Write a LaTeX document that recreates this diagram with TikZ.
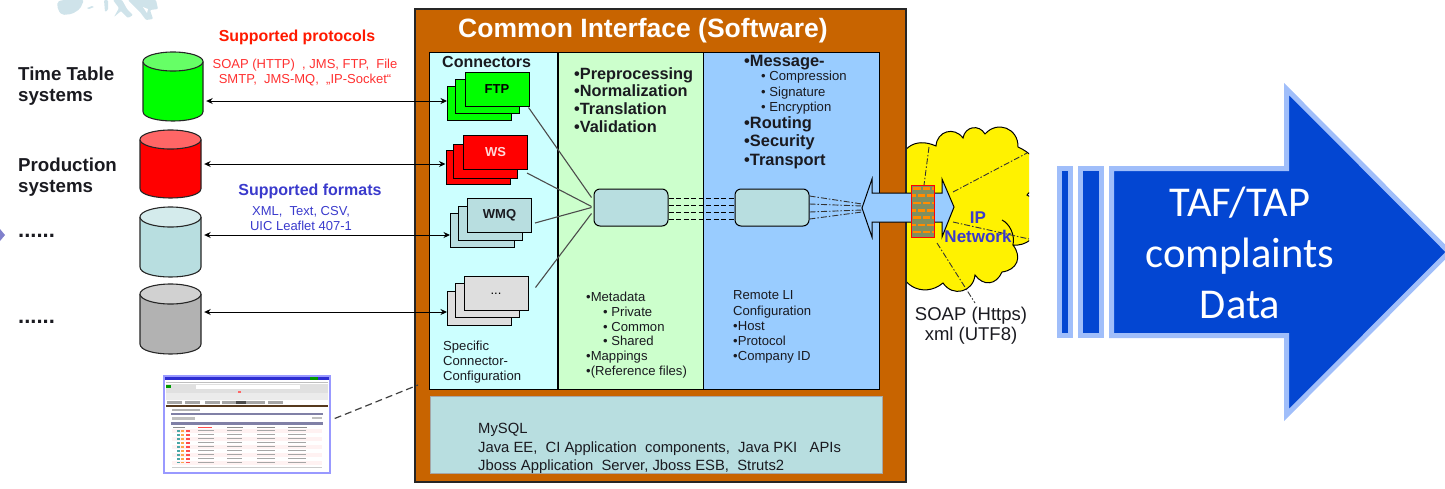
\documentclass[tikz,border=0pt]{standalone}
\usepackage{fontspec}
\setmainfont{Liberation Sans}
\newfontfamily\calibrifont{Carlito}
\usetikzlibrary{arrows.meta,calc}
\definecolor{boxorange}{HTML}{C86400}
\definecolor{pcyan}{HTML}{CCFFFF}
\definecolor{pgreen}{HTML}{CCFFCC}
\definecolor{pblue}{HTML}{99CCFF}
\definecolor{pteal}{HTML}{B8DEE0}
\definecolor{bigblue}{HTML}{0346D2}
\definecolor{bigedge}{HTML}{A0BEFA}
\definecolor{inktext}{HTML}{1A1A20}
\definecolor{fmtblue}{HTML}{3A3ACC}
\definecolor{protred}{HTML}{FF3030}
\definecolor{mapblue}{HTML}{CFE3EA}
\definecolor{brickbase}{HTML}{7F8F60}
\newcommand{\fs}[1]{\fontsize{#1}{#1}\selectfont}
\tikzset{
  x=1pt,y=-1pt,
  plate/.style={draw=black,line width=1pt,minimum width=64pt,minimum height=34pt,inner sep=0pt,font=\fs{13}\bfseries},
  label text/.style={inner sep=0pt,anchor=west,align=left,text=inktext},
  small text/.style={label text,font=\fs{13.1}},
  head text/.style={label text,font=\fs{16.4}\bfseries},
  link/.style={draw=black!70,line width=1.1pt},
  data/.style={black,line width=1pt,{Stealth[length=6.5pt,width=6pt]}-{Stealth[length=6.5pt,width=6pt]},shorten <=3pt},
  fine dash/.style={black,line width=0.8pt,dash pattern=on 5pt off 2.5pt},
  dash dot/.style={black!80,line width=0.9pt,dash pattern=on 6pt off 2pt on 1.5pt off 2pt},
  bigshape/.style={draw=bigedge,fill=bigblue,line width=5pt,miter limit=10},
  lobe/.style={bend left=#1,looseness=1.35},
}
\newcommand{\dbcyl}[8]{% name x1 ytop x2 ybot ry body top
  \pgfmathsetmacro{\cxm}{(#2+#4)/2}
  \pgfmathsetmacro{\crx}{(#4-#2)/2}
  \pgfmathsetmacro{\cyt}{#3+#6}
  \pgfmathsetmacro{\cyb}{#5-#6}
  \pgfmathsetmacro{\cyc}{#5+#6/3}
  \pgfmathsetmacro{\cyd}{#3+#6}
  \node[inner sep=0pt,minimum width=#4pt-#2pt,minimum height=#5pt-#3pt] (#1) at (\cxm,{(#3+#5)/2}) {};
  \fill[#7] (#2,\cyt) -- (#2,\cyb) .. controls (#2,\cyc) and (#4,\cyc) .. (#4,\cyb) -- (#4,\cyt) -- cycle;
  \draw[line width=1.1pt,black!85] (#2,\cyt) -- (#2,\cyb) .. controls (#2,\cyc) and (#4,\cyc) .. (#4,\cyb) -- (#4,\cyt);
  \draw[line width=1.1pt,black!85,fill=#8] (\cxm,\cyd) ellipse[x radius=\crx pt,y radius=#6 pt];
}
\newcommand{\threeplates}[9]{% name colour bx by mx my fx fy label
  \node[plate,fill=#2] (#1-back) at (#3,#4) {};
  \node[plate,fill=#2] (#1-mid) at (#5,#6) {};
  \node[plate,fill=#2] (#1) at (#7,#8) {#9};
}
\begin{document}
\begin{tikzpicture}
\useasboundingbox (0,0) rectangle (1445,488);
% map fragment
\fill[mapblue,rounded corners=2pt] (57,2) -- (62,0) -- (84,0) -- (80,9) -- (72,14) -- (62,15) -- (58,10) -- cycle;
\fill[mapblue] (87,8) -- (92,6) -- (94,7) -- (89,9) -- cycle;
\fill[mapblue,rounded corners=1pt] (104,0) -- (108,0) -- (108,10) -- (105,12) -- cycle;
\fill[mapblue,rounded corners=1pt] (113,0) -- (122,0) -- (127,9) -- (133,15) -- (128,18) -- (121,11) -- (114,17) -- (119,8) -- cycle;
\fill[mapblue,rounded corners=1pt] (128,0) -- (156,0) -- (158,9) -- (150,10) -- (153,19) -- (146,20) -- (140,12) -- cycle;
\fill[white] (143,7) -- (148,9) -- (147,13) -- cycle;
% margin marker
\fill[black!40!blue!50!white] (-6,235) -- (0,229) -- (5,235) -- (0,241) -- cycle;
% labels left
\node[label text,font=\fs{18.7}\bfseries] (ttlab) at (18,86) {Time Table\\[2.3pt]systems};
\node[label text,font=\fs{18.7}\bfseries] (prodlab) at (18,177) {Production\\[2.3pt]systems};
\node[label text,font=\fs{22}\bfseries] (dots1) at (18,236) {......};
\node[label text,font=\fs{22}\bfseries] (dots2) at (18,322) {......};
% cylinders
\dbcyl{db1}{143}{52}{203}{121}{9.5}{green}{green!60!white}
\dbcyl{db2}{140}{130}{201}{198}{9.5}{red}{red!60!white}
\dbcyl{db3}{140}{207}{201}{277}{10}{pteal}{pteal!60!white}
\dbcyl{db4}{140}{284}{201}{354}{10}{black!30}{black!18}
% texts
\node[inner sep=0pt,font=\fs{15.9}\bfseries,text=orange!20!red] (prothead) at (297,37) {Supported protocols};
\node[inner sep=0pt,font=\fs{13},text=protred,align=center] (prottext) at (305,72.5) {SOAP (HTTP)\ \ , JMS, FTP,\ \ File\\[2pt]SMTP,\ \ JMS-MQ,\ \ „IP-Socket“};
\node[inner sep=0pt,font=\fs{16}\bfseries,text=fmtblue] (fmthead) at (310,191) {Supported formats};
\node[inner sep=0pt,font=\fs{13},text=fmtblue,align=center] (fmttext) at (301,218.5) {XML,\ \ Text, CSV,\\[2pt]UIC Leaflet 407-1};
% cloud
\begin{scope}
\clip (900,100) rectangle (1029,320);
\draw[black,line width=1pt,fill=yellow] (900,172) to[lobe=60] (936,146) to[lobe=70] (963,138) to[lobe=70] (985,134) to[lobe=70] (1018,147) to[lobe=55] (1027,195) to[lobe=80] (1013,245) to[lobe=60] (1002,272) to[lobe=60] (975,275) to[lobe=70] (943,283) to[lobe=70] (900,258) -- cycle;
\draw[black,line width=1pt] (1002,220) .. controls (1010,224) and (1015,235) .. (1013,245);
\end{scope}
\draw[dash dot] (929,147) -- (924,185);
\draw[dash dot] (953,192) -- (1027,153);
\draw[dash dot] (953,222) -- (1029,239);
\draw[dash dot] (937,243) -- (975,303);
% main box
\node[draw=black!85,fill=boxorange,line width=1.2pt,minimum width=491pt,minimum height=473pt,inner sep=0pt] (main) at (660.5,245.5) {};
\node[inner sep=0pt,font=\fs{26.5}\bfseries,text=white] (maintitle) at (643,31) {Common Interface (Software)};
% panels
\node[draw=black,fill=pcyan,line width=1pt,minimum width=129pt,minimum height=337pt,inner sep=0pt] (pconn) at (493.5,220.5) {};
\node[draw=black,fill=pgreen,line width=1pt,minimum width=145pt,minimum height=337pt,inner sep=0pt] (pproc) at (630.5,220.5) {};
\node[draw=black,fill=pblue,line width=1pt,minimum width=176pt,minimum height=337pt,inner sep=0pt] (pmsg) at (791,220.5) {};
\draw[black,line width=1.6pt] (558,52) -- (558,389);
\node[draw=black!35,fill=pteal,line width=0.8pt,minimum width=452pt,minimum height=77pt,inner sep=0pt] (pbase) at (656,434.5) {};
% stacks
\threeplates{ftp}{green}{479.5}{103.5}{487.5}{96.5}{497}{89}{FTP}
\threeplates{ws}{red}{478}{167.5}{485.5}{161}{495.5}{152.5}{\textcolor{white!85!red}{WS}}
\threeplates{wmq}{pteal}{482.5}{230}{490.5}{223}{499.5}{215.5}{\textcolor{inktext}{WMQ}}
\threeplates{other}{black!13}{479.5}{308.5}{487.5}{300.5}{496}{293.5}{\textnormal{...}}
% hubs
\node[draw=black,fill=pteal,rounded corners=6pt,line width=1pt,minimum width=74pt,minimum height=37pt,inner sep=0pt] (hub1) at (631,207.5) {};
\node[draw=black,fill=pteal,rounded corners=6pt,line width=1pt,minimum width=74pt,minimum height=37pt,inner sep=0pt] (hub2) at (772,207.5) {};
% links
\draw[link] ([shift={(-1,1)}]ftp.south east) -- ([shift={(-2,-10)}]hub1.west);
\draw[link] ([shift={(-1,3)}]ws.south east) -- ([shift={(-2,-1)}]hub1.west);
\draw[link] ([shift={(3,-10)}]wmq.south east) -- ([shift={(-2,0)}]hub1.west);
\draw[link] ([shift={(7,11.5)}]other.north east) -- ([shift={(-2,6)}]hub1.west);
% hub to hub
\foreach \dy in {-11.5,-4.5,2.5,9.5}{
  \draw[fine dash] ([yshift=\dy pt]hub1.east) -- ([yshift=\dy pt]hub2.west);
}
% block arrow
\coordinate (arrowtipL) at (862,208);
\coordinate (l1) at (0,101);
\coordinate (l2) at (0,164);
\coordinate (l3) at (0,235);
\coordinate (l4) at (0,312);
\foreach \sa/\sb in {196/204,204/206,212/210,219/212}{
  \draw[dash dot] (hub2.east |- 0,\sa) -- (arrowtipL |- 0,\sb);
}
\draw[black,line width=1pt,fill=pblue] (arrowtipL) -- (872,179) -- (872,193) -- (942,193) -- (942,179) -- (954,207) -- (942,237) -- (942,222) -- (872,222) -- (872,237) -- cycle;
% firewall
\begin{scope}
\clip (911,185) rectangle (934,237);
\fill[brickbase] (911,185) rectangle (934,237);
\foreach \r in {0,...,6}{
  \pgfmathsetmacro{\ry}{187+\r*7.3}
  \pgfmathsetmacro{\rx}{mod(\r,2)==0 ? 913 : 908}
  \foreach \c in {0,...,3}{
    \fill[orange!90!yellow] ({\rx+\c*9.5},\ry) rectangle ({\rx+\c*9.5+7.5},{\ry+2.6});
  }
}
\end{scope}
\node[draw=red,line width=1pt,minimum width=23pt,minimum height=52pt,inner sep=0pt] (firewall) at (922.5,211) {};
% connections
\draw[data] (db1.east |- l1) -- (ftp-back.west |- l1);
\draw[data] (db2.east |- l2) -- (ws-back.west |- l2);
\draw[data] (db3.east |- l3) -- (wmq-back.west |- l3);
\draw[data] (db4.east |- l4) -- (other-back.west |- l4);
% panel texts
\node[head text,font=\fs{16}\bfseries] (conntitle) at (442,62) {Connectors};
\node[small text] (connconf) at (443,362) {Specific\\[1.7pt]Connector-\\[1.7pt]Configuration};
\node[head text,font=\fs{16.3}\bfseries] (proctext) at (574,100) {•Preprocessing\\[1.4pt]•Normalization\\[1.4pt]•Translation\\[1.4pt]•Validation};
\node[small text] (metatext) at (586,335) {•Metadata\\[1.6pt]\hspace*{17pt}• Private\\[1.6pt]\hspace*{17pt}• Common\\[1.6pt]\hspace*{17pt}• Shared\\[1.6pt]•Mappings\\[1.6pt]•(Reference files)};
\node[head text] (msgtitle) at (744,63) {•Message-};
\node[small text] (msgsub) at (761,93) {• Compression\\[2.5pt]• Signature\\[2.5pt]• Encryption};
\node[head text] (msgmore) at (744,142.5) {•Routing\\[1.9pt]•Security\\[1.9pt]•Transport};
\node[small text] (remote) at (733,327) {Remote LI\\[2pt]Configuration\\[2pt]•Host\\[2pt]•Protocol\\[2pt]•Company ID};
\node[label text,font=\fs{14.8}] (basetext) at (478,448.5) {MySQL\\[3.7pt]Java EE,\ \ CI Application\ \ components,\ \ Java PKI\ \ \ APIs\\[3.7pt]Jboss Application\ \ Server, Jboss ESB,\ \ Struts2};
\node[inner sep=0pt,font=\fs{17}\bfseries,text=fmtblue,align=center] (iplab) at (978,227) {IP\\[2pt]Network};
\node[inner sep=0pt,font=\fs{18.5},text=inktext,align=center] (soaplab) at (971,326) {SOAP (Https)\\[1.5pt]xml (UTF8)};
% screenshot
\node[draw=blue!40!white,fill=white,line width=1.4pt,minimum width=166pt,minimum height=97pt,inner sep=0pt] (shot) at (247,424.5) {};
\fill[blue!65!gray] (165,376.5) rectangle (329,380);
\fill[green!60!black] (310,376.5) rectangle (318,380);
\fill[black!25] (166,381.5) rectangle (328,383);
\fill[black!12] (166,384) rectangle (328,390);
\fill[white] (196,385) rectangle (300,388.5);
\fill[green!60!black] (166,384.5) rectangle (171,388);
\fill[black!12] (166,390) rectangle (328,393);
\fill[red!60] (238,390.5) rectangle (241,392.5);
\fill[black!8] (166,393) rectangle (328,400);
\foreach \tx in {167,185,205,222,236,250,268}{
  \fill[black!35] (\tx,401) rectangle ({\tx+15},404);
}
\fill[black!70] (236,401) rectangle (246,404);
\fill[black!55!brown] (166,405) rectangle (328,407);
\fill[black!30] (172,409) rectangle (200,410.5);
\fill[blue!30!black!50] (171,412.5) rectangle (323,415);
\fill[black!25] (172,416.5) rectangle (195,420);
\fill[black!25] (312,417) rectangle (322,419);
\fill[blue!30!black!50] (171,421.5) rectangle (323,424.5);
\foreach \ry/\rc in {430/red!5,434/white,438/red!5,442/white,446/red!5,450/white,454/red!5,458/white,461.5/red!5}{
  \fill[\rc] (172,{\ry-1}) rectangle (322,{\ry+3});
  \fill[teal!70] (177,\ry) rectangle (180,{\ry+1.8});
  \fill[orange!70] (181,\ry) rectangle (184,{\ry+1.8});
  \fill[red!70] (186,\ry) rectangle (190,{\ry+1.8});
  \fill[black!35] (198,\ry) rectangle (214,{\ry+1.3});
  \fill[black!35] (227,\ry) rectangle (242,{\ry+1.3});
  \fill[black!35] (257,\ry) rectangle (275,{\ry+1.3});
  \fill[black!35] (288,\ry) rectangle (306,{\ry+1.3});
}
\fill[black!45] (173,427) rectangle (185,428);
\fill[red!70] (198,427) rectangle (212,428);
\fill[black!45] (227,427) rectangle (243,428);
\fill[black!45] (257,427) rectangle (275,428);
\fill[black!45] (288,427) rectangle (307,428);
\fill[black!20] (172,467) rectangle (322,468);
\coordinate (shotend) at (418,385);
\draw[black!75,line width=1.2pt,dash pattern=on 7pt off 4pt] ([shift={(4,-6)}]shot.east) -- (shotend);
% big arrow
\node[bigshape,minimum width=11pt,minimum height=167pt,inner sep=0pt] (bar1) at (1065,252) {};
\node[bigshape,minimum width=21pt,minimum height=167pt,inner sep=0pt] (bar2) at (1091,252) {};
\draw[bigshape] (1111.5,168.5) -- (1286.5,168.5) -- (1286.5,89) -- (1449,252) -- (1286.5,415) -- (1286.5,335.5) -- (1111.5,335.5) -- cycle;
\node[inner sep=0pt,text=white,align=center,font=\calibrifont\fontsize{42.5}{51}\selectfont] (bigtext) at (1240,253) {TAF/TAP\\complaints\\Data};
\end{tikzpicture}
\end{document}
